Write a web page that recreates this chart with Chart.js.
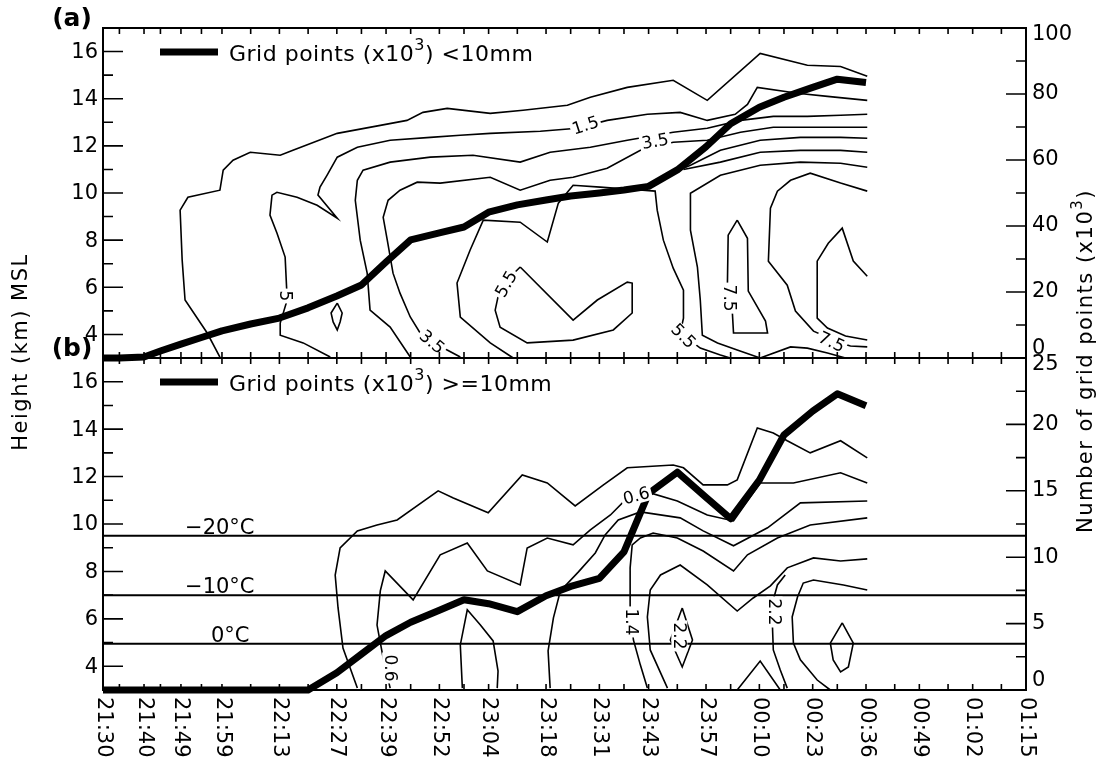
<!DOCTYPE html>
<html>
<head>
<meta charset="utf-8">
<script src="https://cdn.jsdelivr.net/npm/chart.js@4.4.1/dist/chart.umd.min.js"></script>
<style>
html, body { margin: 0; padding: 0; background: #fff; }
#wrap { position: relative; width: 1104px; height: 761px; }
canvas { position: absolute; left: 0; top: 0; }
</style>
</head>
<body>
<div id="wrap">
  <canvas id="panelA" width="1104" height="761"></canvas>
  <canvas id="panelB" width="1104" height="761"></canvas>
</div>
<script>
// scan times, minutes after 21:30
const scanMinutes = [0, 4, 10, 14, 19, 24, 29, 36, 43, 50, 57, 63, 69, 75, 82, 88, 94, 101, 108, 114, 121, 127, 133, 140, 147, 153, 160, 166, 173, 179, 186];
// grid points (x10^3), <10mm and >=10mm
const gridLt10 = [0, 0, 0.3, 2.1, 4.2, 6.2, 8.2, 10.3, 12.1, 15.2, 18.8, 22.1, 29.1, 35.8, 37.9, 39.7, 44.2, 46.4, 47.9, 49.1, 50.0, 50.9, 52.0, 57.0, 64.0, 71.0, 76.0, 79.0, 82.0, 84.5, 83.5];
const gridGe10 = [0, 0, 0, 0, 0, 0, 0, 0, 0, 0, 1.3, 2.7, 4.1, 5.1, 6.0, 6.8, 6.5, 5.9, 7.1, 7.8, 8.4, 10.4, 14.8, 16.4, 14.5, 12.9, 15.8, 19.2, 21.0, 22.3, 21.4];

const xTickMinutes = [4, 10, 14, 19, 24, 29, 36, 43, 50, 57, 63, 69, 75, 82, 88, 94, 101, 108, 114, 121, 127, 133, 140, 147, 153, 160, 166, 173, 179, 186, 193, 199, 206, 212, 219];
const xLabelMinutes = [0, 10, 19, 29, 43, 57, 69, 82, 94, 108, 121, 133, 147, 160, 173, 186, 199, 212, 225];
const xLabelText = ["21:30", "21:40", "21:49", "21:59", "22:13", "22:27", "22:39", "22:52", "23:04", "23:18", "23:31", "23:43", "23:57", "00:10", "00:23", "00:36", "00:49", "01:02", "01:15"];
const heightTicks = [4, 6, 8, 10, 12, 14, 16];
const countTicksA = [0, 20, 40, 60, 80, 100];
const countTicksB = [0, 5, 10, 15, 20, 25];

const isothermHeights = [9.5, 7.0, 4.95];
const isothermText = ["\u221220\u00b0C", "\u221210\u00b0C", "0\u00b0C"];
const isothermTextX = [20, 20, 26.3];

// contours, [minutes, km]
const cA1 = [[28.5,3.04],[25.4,4.06],[20.0,5.46],[19.3,7.15],[18.8,9.27],[20.7,9.82],[28.5,10.12],[29.3,10.97],[31.7,11.39],[35.9,11.73],[43.2,11.6],[46.3,11.81],[57.1,12.53],[67.6,12.87],[74.1,13.08],[78.0,13.42],[83.9,13.59],[94.4,13.38],[102.4,13.51],[113.2,13.72],[118.8,14.06],[127.8,14.48],[139.0,14.78],[147.3,13.93],[160.2,15.92],[171.7,15.42],[179.8,15.37],[186.3,14.95]];
const cA2 = [[55.4,3.04],[48.8,3.64],[43.2,3.97],[43.2,4.48],[44.9,5.46],[44.4,7.28],[42.4,8.30],[40.7,9.06],[41.2,9.91],[42.4,10.03],[47.3,9.82],[52.2,9.48],[57.1,8.93],[52.4,9.91],[52.9,10.25],[54.6,10.75],[57.1,11.52],[62.0,11.94],[70.0,12.24],[79.8,12.36],[87.1,12.45],[94.4,12.53],[106.6,12.62],[115.6,12.75],[122.9,13.08],[132.7,13.34],[140.7,13.42],[147.3,13.08],[154.1,13.34],[157.1,13.76],[159.5,14.48],[169.3,14.23],[176.6,14.10],[186.3,13.93]];
const cA3 = [[74.9,3.04],[70.0,4.31],[65.1,5.03],[64.4,6.60],[62.7,8.0],[61.5,9.69],[62.0,10.54],[63.4,10.97],[70.0,11.31],[79.8,11.52],[90.2,11.60],[101.7,11.31],[109.0,11.73],[118.8,11.94],[127.8,12.24],[139.0,12.58],[147.3,12.75],[155.4,13.08],[163.4,13.25],[171.7,13.25],[179.8,13.30],[186.3,13.34]];
const cA4 = [[87.1,3.04],[83.9,3.34],[77.3,4.06],[74.9,4.74],[72.4,5.75],[70.7,6.60],[69.3,8.0],[68.3,8.97],[69.5,9.69],[72.4,10.12],[76.6,10.46],[82.2,10.42],[94.4,10.67],[101.7,10.12],[109.0,10.54],[114.6,10.67],[122.9,11.05],[131.0,11.81],[139.0,12.15],[147.3,12.24],[155.4,12.58],[163.4,12.79],[171.7,12.79],[179.8,12.79],[186.3,12.79]];
const cA5 = [[134.6,10.54],[143.2,11.18],[150.5,11.81],[160.2,12.24],[170.0,12.36],[179.8,12.36],[186.3,12.32]];
const cA6 = [[141.5,11.0],[150.5,11.31],[160.2,11.73],[170.0,11.81],[179.8,11.81],[186.3,11.73]];
const cA7 = [[186.3,11.09],[179.8,11.26],[170.0,11.31],[160.2,11.18],[150.5,10.75],[143.2,9.99],[143.2,8.42],[144.9,6.86],[145.6,5.46],[146.1,3.97],[149.8,3.64],[154.6,3.34],[160.2,3.0]];
const cA8 = [[186.3,10.08],[179.8,10.42],[172.4,10.84],[167.6,10.54],[164.4,10.08],[162.7,9.36],[162.2,7.11],[166.8,6.09],[168.8,4.99],[173.2,4.14],[179.8,3.64],[182.2,3.51],[186.3,3.47]];
const cA9 = [[186.3,6.47],[182.9,7.11],[180.2,8.51],[176.8,7.87],[174.1,7.11],[174.1,4.69],[176.6,4.27],[181.0,3.93],[186.3,3.76]];
const cA10 = [[154.6,8.85],[157.1,8.08],[157.3,5.84],[161.5,4.57],[162.0,4.06],[153.7,4.06],[153.4,4.99],[152.2,5.97],[152.4,8.21],[154.6,8.85]];
const cA11 = [[100.0,3.0],[94.4,3.64],[87.1,4.74],[86.3,6.18],[89.5,7.58],[92.7,8.85],[101.7,8.76],[108.3,7.92],[111.0,9.57],[114.6,10.33],[121.2,10.25],[128.5,10.16],[134.6,10.08],[135.1,9.27],[136.6,8.0],[139.0,6.81],[141.5,5.88],[141.5,4.69],[140.7,4.06],[145.6,3.42],[150.5,3.13],[152.9,3.0]];
const cA12 = [[101.7,6.86],[114.6,4.61],[120.5,5.46],[127.8,6.22],[129.0,6.18],[129.0,4.91],[124.4,4.19],[114.6,3.76],[103.4,3.64],[96.8,4.31],[95.6,5.03],[96.8,6.01],[101.7,6.86]];
const cA13 = [[57.1,5.33],[58.3,4.91],[57.8,4.53],[57.1,4.19],[56.1,4.53],[55.6,4.91],[57.1,5.33]];
const cA14 = [[160.2,3.0],[167.6,3.47],[171.7,3.42],[176.6,3.21],[181.0,3.0]];

const cB1 = [[62.0,3.08],[58.5,4.77],[57.3,6.46],[56.6,7.85],[57.8,8.99],[62.0,9.71],[66.8,9.96],[71.7,10.17],[81.7,11.40],[85.4,11.10],[93.9,10.47],[102.2,12.07],[108.3,11.73],[115.1,10.76],[122.0,11.65],[127.8,12.37],[139.0,12.49],[141.5,12.37],[146.3,11.65],[152.2,11.65],[154.6,11.86],[159.5,14.05],[163.4,13.84],[166.8,13.51],[172.4,13.0],[179.8,13.51],[186.3,12.79]];
const cB2 = [[70.0,3.08],[68.3,4.35],[66.8,5.74],[67.6,7.18],[68.8,8.02],[75.6,6.80],[82.2,8.70],[88.8,9.20],[93.7,8.02],[101.7,7.43],[103.4,8.99],[108.3,9.41],[114.6,9.12],[118.8,9.75],[123.7,10.38],[126.6,10.89],[133.4,11.31],[140.0,10.97],[147.3,10.38],[153.7,10.13],[160.2,11.73],[168.3,11.73],[179.8,12.16],[186.3,11.73]];
const cB3 = [[109.0,3.08],[108.5,4.65],[109.8,6.04],[111.5,7.18],[115.9,7.98],[120.0,8.78],[122.4,9.54],[125.6,10.17],[131.0,10.51],[140.7,10.26],[146.3,9.71],[153.7,9.08],[162.0,9.84],[170.0,10.89],[186.3,10.97]];
const cB4 = [[132.7,3.08],[131.0,4.05],[129.3,5.11],[128.5,6.38],[128.5,8.15],[129.0,9.12],[131.0,9.41],[134.1,9.62],[140.0,9.41],[146.3,8.86],[153.7,8.02],[157.1,8.70],[164.4,9.41],[172.4,9.96],[186.3,10.26]];
const cB5 = [[137.6,3.08],[133.4,4.69],[132.7,6.08],[133.4,7.22],[135.9,7.85],[140.7,8.27],[147.3,7.43],[154.6,6.33],[158.5,6.88],[162.7,7.39],[166.8,8.15],[173.2,8.57],[179.8,8.44],[186.3,8.53]];
const cB6 = [[166.8,3.08],[165.1,3.84],[163.4,4.69],[163.2,5.66],[163.4,6.80],[164.4,7.43],[166.3,7.85]];
const cB7 = [[177.3,3.0],[174.1,3.42],[170.0,4.27],[168.3,4.98],[168.0,6.08],[169.3,6.92],[170.7,7.51],[173.2,7.64],[180.5,7.43],[186.3,7.22]];
const cB8 = [[154.6,3.0],[160.2,4.22],[165.1,3.0]];
const cB9 = [[87.6,3.08],[87.1,4.90],[88.8,6.38],[92.0,5.74],[95.1,5.07],[96.3,3.80],[96.1,3.08]];
const cB10 = [[141.2,6.46],[143.7,5.11],[141.2,3.97],[138.3,5.11],[141.2,6.46]];
const cB11 = [[180.2,5.83],[182.9,4.98],[181.7,3.97],[179.8,3.76],[178.0,4.27],[177.3,4.98],[180.2,5.83]];

// contour labels: text, minutes, km, angle (deg)
const labelsA = [["1.5",117.6,12.87,-18],["3.5",134.6,12.19,-10],["5",44.4,5.63,90],["3.5",80.2,3.68,40],["5.5",98.3,6.14,-60],["7.5",152.7,5.54,90],["5.5",141.5,3.93,45],["7.5",177.6,3.68,25]];
const labelsB = [["0.6",70.0,3.93,90],["0.6",130.0,11.19,-15],["1.4",128.8,5.87,90],["2.2",140.5,5.28,90],["2.2",163.7,6.29,90]];

const FONT = '"DejaVu Sans", sans-serif';

function toPts(arr) {
    return arr.map(p => ({ x: p[0], y: p[1] }));
}

function contourSet(list) {
    return list.map(c => ({
        data: toPts(c),
        showLine: true,
        borderColor: "#000",
        borderWidth: 1.6,
        pointRadius: 0,
        yAxisID: "y",
        clip: 1
    }));
}

function thickLine(values) {
    return {
        data: scanMinutes.map((m, i) => ({ x: m, y: values[i] })),
        showLine: true,
        borderColor: "#000",
        borderWidth: 7,
        borderJoinStyle: "round",
        pointRadius: 0,
        yAxisID: "y2",
        clip: 5
    };
}

function drawLabels(chart, labels) {
    const ctx = chart.ctx;
    const xs = chart.scales.x, ys = chart.scales.y;
    ctx.save();
    ctx.font = "17px " + FONT;
    ctx.textAlign = "center";
    ctx.textBaseline = "middle";
    labels.forEach(l => {
        const w = ctx.measureText(l[0]).width;
        ctx.save();
        ctx.translate(xs.getPixelForValue(l[1]), ys.getPixelForValue(l[2]));
        ctx.rotate(l[3] * Math.PI / 180);
        ctx.fillStyle = "#fff";
        ctx.fillRect(-w / 2 - 2, -8, w + 4, 16);
        ctx.fillStyle = "#000";
        ctx.fillText(l[0], 0, 1);
        ctx.restore();
    });
    ctx.restore();
}

function drawSuperText(ctx, x, y, parts) {
    // parts: [text, size, rise]
    let cx = x;
    parts.forEach(p => {
        ctx.font = p[1] + "px " + FONT;
        ctx.fillText(p[0], cx, y - p[2]);
        cx += ctx.measureText(p[0]).width;
    });
}

function drawFrame(chart, cfg) {
    const ctx = chart.ctx;
    const a = chart.chartArea;
    const xs = chart.scales.x, ys = chart.scales.y, rs = chart.scales.y2;
    ctx.save();
    ctx.strokeStyle = "#000";
    ctx.fillStyle = "#000";

    ctx.lineWidth = 2;
    ctx.strokeRect(a.left, a.top, a.right - a.left, a.bottom - a.top);

    ctx.lineWidth = 1.6;
    ctx.beginPath();
    for (let h = 4; h <= 16; h++) {
        const y = ys.getPixelForValue(h);
        ctx.moveTo(a.left, y);
        ctx.lineTo(a.left + (h % 2 === 0 ? 20 : 10), y);
    }
    cfg.countTicks.forEach((v, i) => {
        const y = rs.getPixelForValue(v);
        ctx.moveTo(a.right, y);
        ctx.lineTo(a.right - 20, y);
        if (i < cfg.countTicks.length - 1) {
            const ym = rs.getPixelForValue((v + cfg.countTicks[i + 1]) / 2);
            ctx.moveTo(a.right, ym);
            ctx.lineTo(a.right - 10, ym);
        }
    });
    xTickMinutes.forEach(m => {
        const x = xs.getPixelForValue(m);
        ctx.moveTo(x, a.top);
        ctx.lineTo(x, a.top + 6);
        ctx.moveTo(x, a.bottom);
        ctx.lineTo(x, a.bottom - 6);
    });
    ctx.stroke();

    // tick labels
    ctx.font = "21px " + FONT;
    ctx.textBaseline = "middle";
    ctx.textAlign = "right";
    heightTicks.forEach(h => ctx.fillText(String(h), a.left - 5, ys.getPixelForValue(h) + 1));
    ctx.textAlign = "left";
    const n = cfg.countTicks.length;
    cfg.countTicks.forEach((v, i) => {
        let y = rs.getPixelForValue(v);
        if (i === 0) y -= 9;
        if (i === n - 1) y += 7;
        ctx.fillText(String(v), a.right + 6, y);
    });

    if (cfg.showX) {
        xLabelMinutes.forEach((m, i) => {
            ctx.save();
            ctx.translate(xs.getPixelForValue(m), a.bottom + 7);
            ctx.rotate(Math.PI / 2);
            ctx.textAlign = "left";
            ctx.fillText(xLabelText[i], 0, 0);
            ctx.restore();
        });
    }

    // legend
    ctx.lineWidth = 7;
    ctx.beginPath();
    ctx.moveTo(a.left + 57, a.top + 24);
    ctx.lineTo(a.left + 115, a.top + 24);
    ctx.stroke();
    ctx.textAlign = "left";
    ctx.textBaseline = "alphabetic";
    ctx.letterSpacing = "0.5px";
    drawSuperText(ctx, a.left + 126, a.top + 33, [["Grid points (x10", 22, 0], ["3", 16, 11], [") " + cfg.legendTail, 22, 0]]);
    ctx.letterSpacing = "0px";

    // panel tag
    ctx.font = "bold 25px " + FONT;
    ctx.textAlign = "center";
    ctx.textBaseline = "middle";
    ctx.fillText(cfg.tag, 72, a.top - 9);

    // isotherm labels
    if (cfg.isotherms) {
        ctx.font = "21px " + FONT;
        ctx.textAlign = "left";
        ctx.textBaseline = "alphabetic";
        isothermHeights.forEach((h, i) => {
            ctx.fillText(isothermText[i], xs.getPixelForValue(isothermTextX[i]), ys.getPixelForValue(h) - 2);
        });
    }

    // axis titles (drawn once, by the lower panel)
    if (cfg.titles) {
        ctx.letterSpacing = "1.5px";
        ctx.font = "21px " + FONT;
        ctx.textBaseline = "middle";
        ctx.textAlign = "center";
        ctx.save();
        ctx.translate(22, 352);
        ctx.rotate(-Math.PI / 2);
        ctx.fillText("Height (km) MSL", 0, 0);
        ctx.restore();

        ctx.save();
        ctx.translate(1084, 361);
        ctx.rotate(-Math.PI / 2);
        ctx.textAlign = "left";
        ctx.textBaseline = "alphabetic";
        const parts = [["Number of grid points (x10", 21, 0], ["3", 15, 10], [")", 21, 0]];
        let total = 0;
        parts.forEach(p => { ctx.font = p[1] + "px " + FONT; total += ctx.measureText(p[0]).width; });
        drawSuperText(ctx, -total / 2, 8, parts);
        ctx.restore();
        ctx.letterSpacing = "0px";
    }
    ctx.restore();
}

function makePanel(canvasId, cfg) {
    const datasets = contourSet(cfg.contours);
    if (cfg.isotherms) {
        isothermHeights.forEach(h => {
            datasets.push({
                data: [{ x: 0, y: h }, { x: 225, y: h }],
                showLine: true,
                borderColor: "#000",
                borderWidth: 2,
                pointRadius: 0,
                yAxisID: "y"
            });
        });
    }
    datasets.push(thickLine(cfg.values));

    return new Chart(document.getElementById(canvasId), {
        type: "scatter",
        data: { datasets: datasets },
        options: {
            responsive: false,
            animation: false,
            events: [],
            layout: { padding: cfg.padding },
            scales: {
                x: { type: "linear", min: 0, max: 225, display: false },
                y: { type: "linear", min: 3, max: 17, display: false },
                y2: { type: "linear", position: "right", min: 0, max: cfg.countTicks[cfg.countTicks.length - 1], display: false }
            },
            plugins: {
                legend: { display: false },
                tooltip: { enabled: false }
            }
        },
        plugins: [{
            id: "panelDecor" + canvasId,
            afterDatasetsDraw: chart => drawLabels(chart, cfg.labels),
            afterDraw: chart => drawFrame(chart, cfg)
        }]
    });
}

makePanel("panelA", {
    tag: "(a)",
    contours: [cA1, cA2, cA3, cA4, cA5, cA6, cA7, cA8, cA9, cA10, cA11, cA12, cA13, cA14],
    labels: labelsA,
    values: gridLt10,
    countTicks: countTicksA,
    legendTail: "<10mm",
    padding: { left: 103, right: 78, top: 28, bottom: 403 },
    showX: false,
    isotherms: false,
    titles: false
});

makePanel("panelB", {
    tag: "(b)",
    contours: [cB1, cB2, cB3, cB4, cB5, cB6, cB7, cB8, cB9, cB10, cB11],
    labels: labelsB,
    values: gridGe10,
    countTicks: countTicksB,
    legendTail: ">=10mm",
    padding: { left: 103, right: 78, top: 358, bottom: 71 },
    showX: true,
    isotherms: true,
    titles: true
});
</script>
</body>
</html>
